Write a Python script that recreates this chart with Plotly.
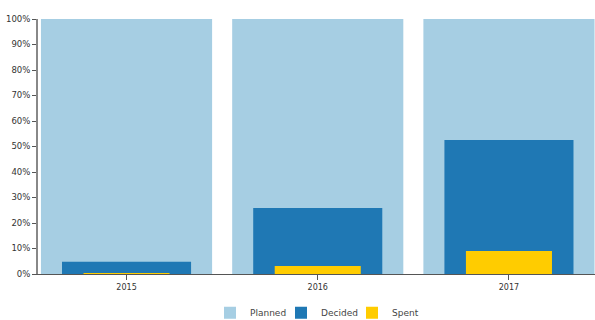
import plotly.graph_objects as go

years = ["2015", "2016", "2017"]
planned = [100, 100, 100]
decided = [4.8, 25.9, 52.5]
spent = [0.3, 3.1, 9.0]
y_ticks = [0, 10, 20, 30, 40, 50, 60, 70, 80, 90, 100]
y_tick_labels = [f"{v}%" for v in y_ticks]

fig = go.Figure()
fig.add_trace(go.Bar(x=years, y=planned, name="Planned", width=0.895,
                     marker=dict(color="#a6cee3", line=dict(width=0))))
fig.add_trace(go.Bar(x=years, y=decided, name="Decided", width=0.675,
                     marker=dict(color="#1f78b4", line=dict(width=0))))
fig.add_trace(go.Bar(x=years, y=spent, name="Spent", width=0.45,
                     marker=dict(color="#ffcc00", line=dict(width=0))))

fig.update_layout(
    width=595, height=320,
    barmode="overlay",
    margin=dict(l=38, r=0, t=19, b=46, autoexpand=False),
    plot_bgcolor="white", paper_bgcolor="white",
    font=dict(family="DejaVu Sans", size=8, color="#333333"),
    showlegend=True,
    legend=dict(orientation="h", x=0.5, xanchor="center", y=-0.095, yanchor="top",
                font=dict(size=9, color="#444444"), itemsizing="constant",
                traceorder="normal", itemwidth=30, entrywidth=26, entrywidthmode="pixels",
                bgcolor="rgba(0,0,0,0)"),
    xaxis=dict(range=[-0.463, 2.45], showline=True, linecolor="#555555", linewidth=1,
               ticks="outside", ticklen=5, tickcolor="#555555", showgrid=False,
               automargin=False, tickfont=dict(size=8, color="#333333")),
    yaxis=dict(range=[0, 100], tickvals=y_ticks, ticktext=y_tick_labels,
               showline=True, linecolor="#888888", linewidth=2,
               ticks="outside", ticklen=4, tickcolor="#555555", showgrid=False,
               automargin=False, zeroline=False, tickfont=dict(size=8.5, color="#333333")),
)
fig.write_html("out.html", config={"displayModeBar": False},
               post_script="document.body.style.margin='0';")
